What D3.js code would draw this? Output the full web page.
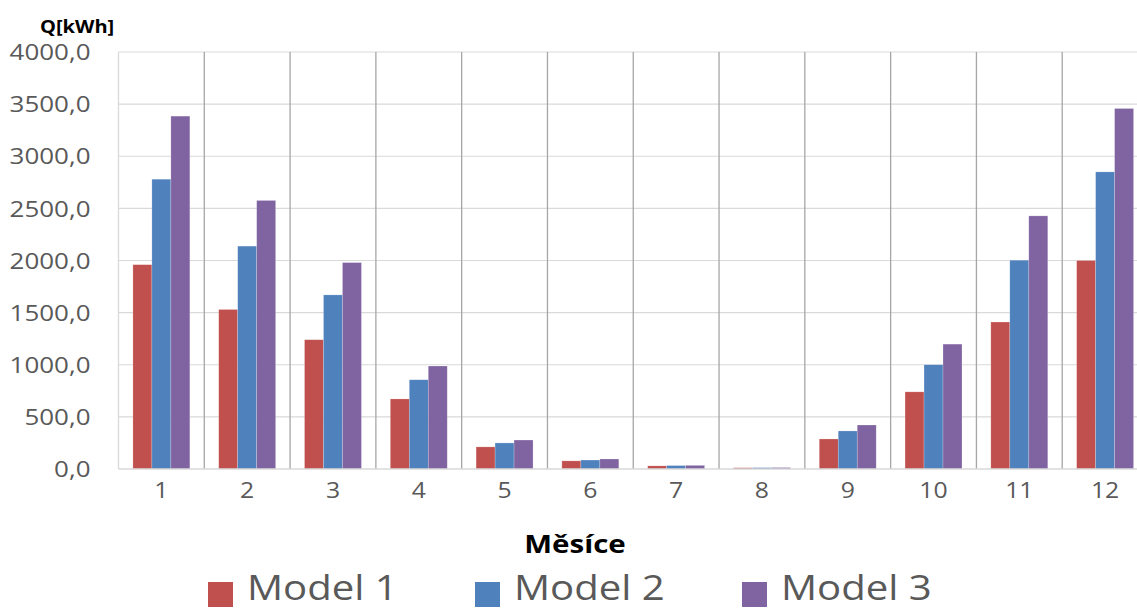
<!DOCTYPE html>
<html><head><meta charset="utf-8">
<script src="https://cdn.jsdelivr.net/npm/d3@7"></script>
<style>
body{margin:0;background:#fff;}
svg{display:block;font-family:"Open Sans",sans-serif;}
</style></head>
<body><svg id="chart" width="1137" height="610"></svg>
<script>
const months = ["1","2","3","4","5","6","7","8","9","10","11","12"];
const seriesNames = ["Model 1","Model 2","Model 3"];
const model1 = [1960,1530,1240,672,212,78,30,12,288,740,1410,2000];
const model2 = [2780,2138,1670,856,250,86,33,13,365,1000,2003,2850];
const model3 = [3385,2576,1980,988,278,96,35,14,422,1198,2428,3458];
const yTicks = [0,500,1000,1500,2000,2500,3000,3500,4000];
const colors = ["#c0504d","#4f81bd","#8064a2"];

const SX = 1.18;
const svg = d3.select("#chart");
const m = {left:118.5, right:1148, top:52, bottom:469};
const x = d3.scaleBand().domain(months).range([m.left, m.right]).paddingInner(0).paddingOuter(0);
const xs = d3.scaleBand().domain(seriesNames).range([0, x.bandwidth()]).paddingInner(0).paddingOuter(0.76);
const y = d3.scaleLinear().domain([0,4000]).range([m.bottom, m.top]);
const fmt = v => d3.format(".1f")(v).replace(".", ",");

// horizontal gridlines
svg.append("g").selectAll("line").data(yTicks.filter(d=>d>0)).join("line")
  .attr("x1", m.left).attr("x2", m.right)
  .attr("y1", d=>y(d)).attr("y2", d=>y(d))
  .attr("stroke","#d9d9d9").attr("stroke-width",1.2);

// vertical separators
svg.append("g").selectAll("line").data(months.slice(1)).join("line")
  .attr("x1", d=>x(d)).attr("x2", d=>x(d))
  .attr("y1", m.top).attr("y2", m.bottom)
  .attr("stroke","#a6a6a6").attr("stroke-width",1.3);

// bars
const series = [model1, model2, model3];
const gBars = svg.append("g");
series.forEach((vals, si) => {
  gBars.append("g").selectAll("rect").data(vals).join("rect")
    .attr("x", (d,i)=> x(months[i]) + xs(seriesNames[si]))
    .attr("width", xs.bandwidth())
    .attr("y", d=>y(d))
    .attr("height", d=> y(0)-y(d))
    .attr("fill", colors[si])
    .attr("stroke", "rgba(255,255,255,0.35)").attr("stroke-width",0.6);
});

// left axis line & baseline
svg.append("line").attr("x1",m.left).attr("x2",m.left).attr("y1",m.top).attr("y2",m.bottom)
  .attr("stroke","#d9d9d9").attr("stroke-width",1.3);
svg.append("line").attr("x1",m.left).attr("x2",m.right).attr("y1",m.bottom).attr("y2",m.bottom)
  .attr("stroke","#d9d9d9").attr("stroke-width",1.3);

// y axis
const yAxis = svg.append("g").attr("transform",`translate(${m.left},0)`)
  .call(d3.axisLeft(y).tickValues(yTicks).tickFormat(fmt).tickSize(0).tickPadding(0));
yAxis.select(".domain").remove();
yAxis.selectAll("text").attr("x",0).attr("dy","0.35em")
  .attr("font-size",22).attr("fill","#595959").attr("font-family","Open Sans")
  .attr("transform",`translate(-28,0) scale(${SX},1)`);

// x axis
const xAxis = svg.append("g").attr("transform",`translate(0,${m.bottom})`)
  .call(d3.axisBottom(x).tickSize(0).tickPadding(0));
xAxis.select(".domain").remove();
xAxis.selectAll("text").attr("y",0).attr("dy","0")
  .attr("font-size",21).attr("fill","#595959").attr("font-family","Open Sans")
  .attr("transform",`translate(0,29) scale(${SX},1)`);

// titles
svg.append("text").attr("transform",`translate(575,553) scale(${SX},1)`)
  .attr("text-anchor","middle").attr("font-weight","bold").attr("font-size",25)
  .attr("fill","#000").text("Měsíce");
svg.append("text").attr("transform",`translate(40,33) scale(${SX},1)`)
  .attr("font-weight","bold").attr("font-size",17)
  .attr("fill","#000").text("Q[kWh]");

// legend
const legX = [208, 475, 742];
const leg = svg.append("g");
seriesNames.forEach((n,i)=>{
  leg.append("rect").attr("x",legX[i]).attr("y",582).attr("width",25).attr("height",25).attr("fill",colors[i]);
  leg.append("text").attr("transform",`translate(${legX[i]+39},600) scale(${SX},1)`)
    .attr("font-size",34).attr("fill","#595959").text(n);
});
</script></body></html>
